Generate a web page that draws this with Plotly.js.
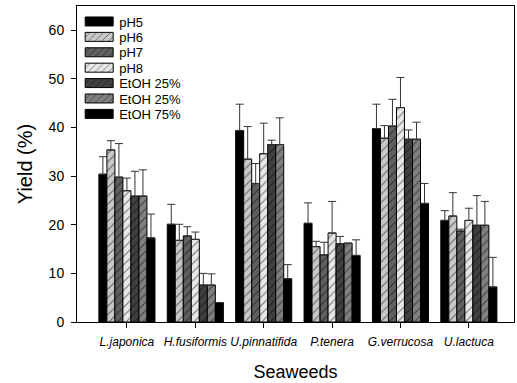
<!DOCTYPE html>
<html>
<head>
<meta charset="utf-8">
<script src="https://cdn.plot.ly/plotly-3.0.1.min.js"></script>
<style>html,body{margin:0;padding:0;background:#fff;}#chart{width:517px;height:383px;}</style>
</head>
<body>
<div id="chart"></div>
<script>
const categories = ["L.japonica", "H.fusiformis", "U.pinnatifida", "P.tenera", "G.verrucosa", "U.lactuca"];
const seriesNames = ["pH5", "pH6", "pH7", "pH8", "EtOH 25%", "EtOH 25%", "EtOH 75%"];

const pH5     = [30.4, 20.1, 39.4, 20.3, 39.8, 20.9];
const pH6     = [35.4, 16.8, 33.5, 15.5, 37.8, 21.8];
const pH7     = [29.8, 17.7, 28.5, 13.8, 40.3, 18.7];
const pH8     = [27.0, 17.0, 34.6, 18.3, 44.1, 20.9];
const etoh25a = [25.9,  7.6, 36.5, 16.1, 37.6, 19.9];
const etoh25b = [25.9,  7.6, 36.5, 16.2, 37.6, 19.9];
const etoh75  = [17.3,  4.0,  8.9, 13.7, 24.4,  7.2];

const err_pH5     = [3.6, 4.1, 5.4, 4.2, 5.0, 2.0];
const err_pH6     = [1.9, 3.3, 6.7, 1.1, 2.6, 4.8];
const err_pH7     = [6.9, 1.9, 4.1, 2.6, 5.5, 0.4];
const err_pH8     = [2.6, 1.5, 6.3, 6.5, 6.2, 2.5];
const err_etoh25a = [5.1, 2.4, 0.9, 1.5, 1.9, 6.1];
const err_etoh25b = [5.4, 2.3, 5.5, 0.0, 3.5, 4.9];
const err_etoh75  = [4.9, 0.0, 2.9, 3.2, 4.1, 6.1];

const values = [pH5, pH6, pH7, pH8, etoh25a, etoh25b, etoh75];
const errors = [err_pH5, err_pH6, err_pH7, err_pH8, err_etoh25a, err_etoh25b, err_etoh75];

const fills   = ["#000000", "#c8c8c8", "#606060", "#e8e8e8", "#404040", "#808080", "#000000"];
const hatched = [false, true, true, true, true, true, false];

const traces = values.map((v, i) => ({
  type: "bar",
  name: seriesNames[i],
  x: categories,
  y: v,
  marker: {
    color: fills[i],
    line: {color: "#000000", width: 1},
    pattern: hatched[i] ? {shape: "/", fillmode: "overlay", fgcolor: "#000000", size: 6, solidity: 0.18} : {shape: ""}
  },
  error_y: {
    type: "data",
    symmetric: false,
    array: errors[i],
    arrayminus: errors[i].map(() => 0),
    color: "#333333",
    thickness: 1,
    width: 4
  }
}));

const font = "Arial, 'Liberation Sans', sans-serif";

const layout = {
  width: 517,
  height: 383,
  margin: {l: 77, r: 3, t: 6, b: 61},
  paper_bgcolor: "#ffffff",
  plot_bgcolor: "#ffffff",
  barmode: "group",
  bargap: 0.18,
  bargroupgap: 0,
  showlegend: true,
  font: {family: font, color: "#000000"},
  legend: {
    x: 0.005, y: 0.992, xanchor: "left", yanchor: "top",
    bgcolor: "rgba(0,0,0,0)",
    font: {family: font, size: 13, color: "#000000"},
    tracegroupgap: 0
  },
  xaxis: {
    type: "category",
    range: [-0.73, 5.66],
    showline: true, mirror: true, linecolor: "#000000", linewidth: 1,
    ticks: "outside", ticklen: 5, tickcolor: "#000000",
    ticklabelstandoff: 4,
    showgrid: false, zeroline: false,
    tickfont: {family: font, size: 12, style: "italic", color: "#000000"},
    title: {text: "Seaweeds", font: {family: font, size: 18, color: "#000000"}, standoff: 16}
  },
  yaxis: {
    range: [0, 65],
    tickvals: [0, 10, 20, 30, 40, 50, 60],
    showline: true, mirror: true, linecolor: "#000000", linewidth: 1,
    ticks: "outside", ticklen: 5, tickcolor: "#000000",
    ticklabelstandoff: 4,
    showgrid: false, zeroline: false,
    tickfont: {family: font, size: 14, color: "#000000"},
    title: {text: "Yield (%)", font: {family: font, size: 20, color: "#000000"}, standoff: 10}
  }
};

Plotly.newPlot("chart", traces, layout, {displayModeBar: false, staticPlot: true}).then(gd => {
  gd.querySelectorAll("g.legendpoints path").forEach(p => {
    p.setAttribute("d", "M14,4.5H-14V-4.5H14Z");
  });
  const items = Array.from(gd.querySelectorAll("g.legend g.traces"));
  if (items.length) {
    const m0 = /translate\(([-\d.]+)[ ,]+([-\d.]+)\)/.exec(items[0].getAttribute("transform") || "");
    if (m0) {
      const x0 = parseFloat(m0[1]);
      const y0 = parseFloat(m0[2]) - 2;
      items.forEach((g, i) => {
        g.setAttribute("transform", "translate(" + x0 + "," + (y0 + i * 15.4) + ")");
      });
    }
  }
});
</script>
</body>
</html>
